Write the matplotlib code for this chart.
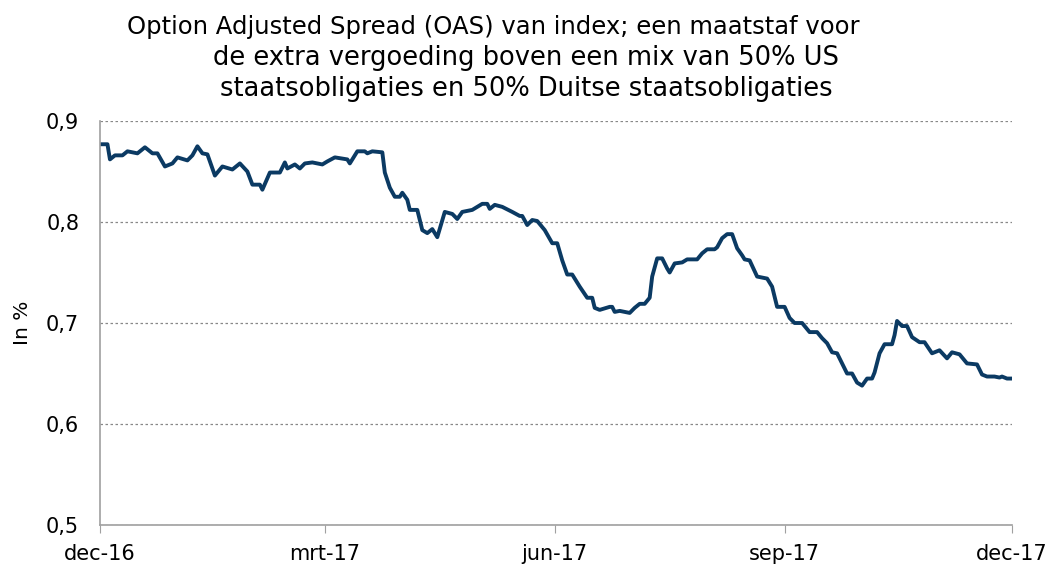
import pandas as pd
import numpy as np
import matplotlib
matplotlib.use("Agg")
import matplotlib.pyplot as plt
import matplotlib.dates as mdates

# OAS van index, dagen vanaf 1 dec 2016 en waarde in %
start = pd.Timestamp("2016-12-01")
days = [0, 3, 4, 6, 9, 11, 15, 18, 21, 23, 26, 29, 31, 35, 37, 39, 41, 43, 46, 49,
        53, 56, 59, 61, 64, 65, 68, 72, 74, 75, 78, 80, 82, 85, 89, 91, 94, 99, 100, 103,
        106, 107, 109, 113, 114, 116, 118, 120, 121, 123, 124, 127, 129, 131, 133, 135, 138, 141, 143, 145,
        149, 153, 155, 156, 158, 161, 165, 168, 169, 171, 173, 175, 178, 181, 183, 185, 187, 189, 192, 195,
        197, 198, 200, 204, 205, 206, 208, 212, 214, 216, 218, 220, 221, 223, 225, 227, 228, 230, 233, 235,
        239, 241, 243, 246, 247, 249, 251, 253, 255, 257, 258, 260, 263, 267, 269, 271, 274, 276, 278, 281,
        284, 287, 289, 291, 293, 295, 297, 299, 301, 303, 305, 307, 309, 310, 312, 314, 317, 318, 319, 321,
        323, 325, 328, 330, 333, 336, 339, 341, 344, 347, 351, 353, 355, 358, 360, 361, 363, 365]
oas = [0.877, 0.877, 0.862, 0.866, 0.866, 0.870, 0.868, 0.874, 0.868, 0.868, 0.855, 0.858, 0.864, 0.861, 0.866, 0.875, 0.868, 0.867, 0.846, 0.855,
       0.852, 0.858, 0.850, 0.837, 0.837, 0.832, 0.849, 0.849, 0.859, 0.853, 0.857, 0.853, 0.858, 0.859, 0.857, 0.860, 0.864, 0.862, 0.858, 0.870,
       0.870, 0.868, 0.870, 0.869, 0.849, 0.834, 0.825, 0.825, 0.829, 0.822, 0.812, 0.812, 0.792, 0.789, 0.793, 0.785, 0.810, 0.808, 0.803, 0.810,
       0.812, 0.818, 0.818, 0.813, 0.817, 0.815, 0.810, 0.806, 0.806, 0.797, 0.802, 0.801, 0.792, 0.779, 0.779, 0.762, 0.748, 0.748, 0.736, 0.725,
       0.725, 0.715, 0.713, 0.716, 0.716, 0.711, 0.712, 0.710, 0.715, 0.719, 0.719, 0.725, 0.746, 0.764, 0.764, 0.754, 0.750, 0.759, 0.760, 0.763,
       0.763, 0.769, 0.773, 0.773, 0.775, 0.784, 0.788, 0.788, 0.774, 0.767, 0.763, 0.762, 0.746, 0.744, 0.736, 0.716, 0.716, 0.705, 0.700, 0.700,
       0.691, 0.691, 0.685, 0.680, 0.671, 0.670, 0.660, 0.650, 0.650, 0.641, 0.638, 0.645, 0.645, 0.651, 0.670, 0.679, 0.679, 0.688, 0.702, 0.697,
       0.697, 0.686, 0.681, 0.681, 0.670, 0.673, 0.665, 0.671, 0.669, 0.660, 0.659, 0.649, 0.647, 0.647, 0.646, 0.647, 0.645, 0.645]
tick_dates = ["2016-12-01", "2017-03-01", "2017-06-01", "2017-09-01", "2017-12-01"]
tick_labels = ["dec-16", "mrt-17", "jun-17", "sep-17", "dec-17"]
y_ticks = [0.5, 0.6, 0.7, 0.8, 0.9]
y_labels = ["0,5", "0,6", "0,7", "0,8", "0,9"]
title_lines = ["Option Adjusted Spread (OAS) van index; een maatstaf voor",
               "de extra vergoeding boven een mix van 50% US",
               "staatsobligaties en 50% Duitse staatsobligaties"]

dates = start + pd.to_timedelta(days, unit="D")

fig = plt.figure(figsize=(10.5, 5.65), dpi=100)
ax = fig.add_axes([0.0952, 0.0708, 0.8686, 0.715])
ax.plot(dates, oas, color="#0b3a63", lw=2.8, solid_joinstyle="round")

ax.set_xlim(pd.Timestamp(tick_dates[0]), pd.Timestamp(tick_dates[-1]))
ax.set_ylim(0.5, 0.9)
ax.set_xticks(pd.to_datetime(tick_dates))
ax.set_xticklabels(tick_labels, fontsize=15)
ax.set_yticks(y_ticks)
ax.set_yticklabels(y_labels, fontsize=15)
ax.tick_params(axis="x", length=6, color="#a0a0a0", pad=8)
ax.tick_params(axis="y", length=0, pad=15)
ax.grid(axis="y", color="#888888", linestyle=(0, (2, 2)), lw=0.9)
for s in ["top", "right"]:
    ax.spines[s].set_visible(False)
for s in ["left", "bottom"]:
    ax.spines[s].set_color("#a0a0a0")
    ax.spines[s].set_linewidth(1.2)
ax.set_ylabel("In %", fontsize=14.5, labelpad=10)

# titel in drie regels, eerste regel iets naar links zoals het origineel
fig.text(0.4695, 0.952, title_lines[0], ha="center", va="center", fontsize=17.5)
fig.text(0.501, 0.897, title_lines[1], ha="center", va="center", fontsize=18.5)
fig.text(0.501, 0.842, title_lines[2], ha="center", va="center", fontsize=18.5)

fig.savefig("out.png", dpi=100)
